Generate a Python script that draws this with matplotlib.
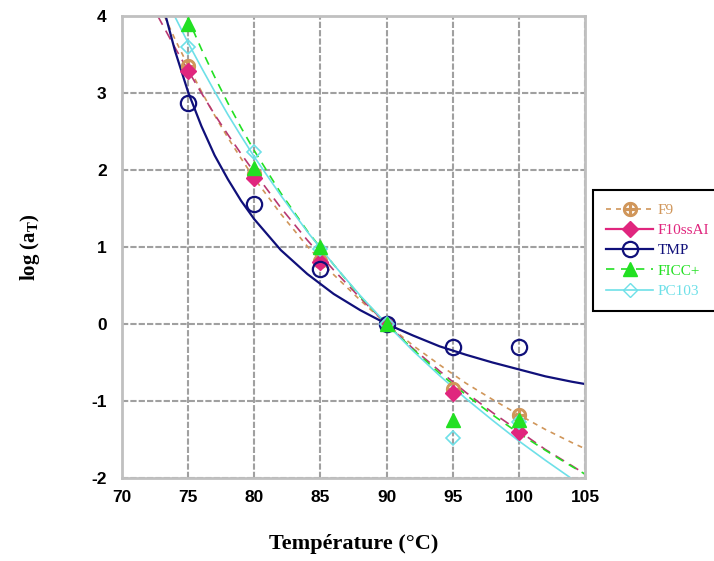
import numpy as np
import matplotlib
matplotlib.use("Agg")
import matplotlib.pyplot as plt
from matplotlib.lines import Line2D

plt.rcParams['axes.unicode_minus'] = False

# measured points
temps = [75, 80, 85, 90, 95, 100]
f9 = [3.35, 1.95, 0.82, 0, -0.85, -1.18]
f10 = [3.28, 1.90, 0.81, 0, -0.89, -1.40]
tmp = [2.87, 1.56, 0.71, 0, -0.30, -0.30]
ficc = [3.90, 2.03, 1.00, 0, -1.25, -1.25]
pc103 = [3.60, 2.24, 0.97, 0, -1.48, -1.27]

# fitted curves
f9_fit_t = [73.2, 74, 75, 76, 77, 78, 79, 80, 82, 84, 86, 88, 90, 92, 94, 96, 98, 100, 102, 104, 105]
f9_fit = [4.00, 3.70, 3.35, 3.02, 2.71, 2.42, 2.15, 1.89, 1.43, 1.01, 0.64, 0.31, 0,
          -0.28, -0.53, -0.77, -0.98, -1.18, -1.37, -1.54, -1.62]
f10_fit_t = [72.7, 74, 75, 76, 77, 78, 79, 80, 82, 84, 86, 88, 90, 92, 94, 96, 98, 100, 102, 104, 105]
f10_fit = [4.00, 3.59, 3.29, 3.00, 2.72, 2.46, 2.21, 1.97, 1.51, 1.09, 0.70, 0.34, 0,
           -0.32, -0.61, -0.89, -1.15, -1.39, -1.63, -1.84, -1.95]
tmp_fit_t = [73.3, 74, 75, 76, 77, 78, 79, 80, 82, 84, 86, 88, 90, 92, 94, 96, 98, 100, 102, 104, 105]
tmp_fit = [4.00, 3.55, 3.01, 2.57, 2.19, 1.88, 1.60, 1.36, 0.96, 0.65, 0.39, 0.18, 0,
           -0.15, -0.29, -0.40, -0.50, -0.59, -0.68, -0.75, -0.78]
ficc_fit_t = [74.9, 76, 77, 78, 79, 80, 82, 84, 86, 88, 90, 92, 94, 96, 98, 100, 102, 104, 105]
ficc_fit = [4.00, 3.57, 3.21, 2.87, 2.55, 2.25, 1.70, 1.21, 0.77, 0.36, 0,
            -0.33, -0.64, -0.92, -1.18, -1.42, -1.64, -1.85, -1.95]
pc_fit_t = [74, 75, 76, 77, 78, 79, 80, 82, 84, 86, 88, 90, 92, 94, 96, 98, 100, 102, 104]
pc_fit = [3.99, 3.65, 3.33, 3.02, 2.72, 2.44, 2.17, 1.67, 1.20, 0.77, 0.37, 0,
          -0.35, -0.67, -0.97, -1.25, -1.52, -1.77, -2.01]

c_f9 = '#d0965a'
c_f10 = '#e0267e'
c_f10_line = '#b83872'
c_tmp = '#10107a'
c_ficc = '#22e022'
c_pc = '#6ee0e8'

fig = plt.figure(figsize=(7.14, 5.61), dpi=100)
ax = fig.add_axes([0.1709, 0.148, 0.6485, 0.8235])

ax.plot(f9_fit_t, f9_fit, color=c_f9, lw=1.2, ls=(0, (3, 3)), zorder=2)
ax.plot(f10_fit_t, f10_fit, color=c_f10_line, lw=1.2, ls=(0, (6, 4)), zorder=2)
ax.plot(ficc_fit_t, ficc_fit, color=c_ficc, lw=1.2, ls=(0, (5, 4)), zorder=2)
ax.plot(pc_fit_t, pc_fit, color=c_pc, lw=1.2, zorder=2)
ax.plot(tmp_fit_t, tmp_fit, color=c_tmp, lw=1.6, zorder=2)

ax.plot(temps, f9, ls='none', marker='$\\oplus$', ms=10, color=c_f9, zorder=3)
ax.plot(temps, f10, ls='none', marker='D', ms=8, color=c_f10, mec=c_f10, zorder=3)
ax.plot(temps, tmp, ls='none', marker='o', ms=11, mfc='none', mec=c_tmp, mew=1.6, zorder=3)
ax.plot(temps, pc103, ls='none', marker='D', ms=7, mfc='none', mec=c_pc, mew=1.2, zorder=3)
ax.plot(temps, ficc, ls='none', marker='^', ms=10, color=c_ficc, zorder=3)

ax.set_xlim(70, 105)
ax.set_ylim(-2, 4)
ax.set_xticks(range(70, 106, 5))
ax.set_yticks(range(-2, 5))
ax.grid(True, color='#a0a0a0', lw=1.5, ls=(0, (3, 1)))
ax.set_axisbelow(True)
for s in ax.spines.values():
    s.set_color('#c0c0c0')
    s.set_linewidth(2)
ax.tick_params(length=0, labelsize=12.5)
ax.tick_params(axis='x', pad=9)
ax.tick_params(axis='y', pad=11)
for lab in ax.get_xticklabels() + ax.get_yticklabels():
    lab.set_fontfamily('Liberation Sans')
    lab.set_fontweight('bold')

ax.set_xlabel('Température (°C)', fontfamily='Liberation Serif', fontweight='bold', fontsize=16)
ax.xaxis.set_label_coords(0.5, -0.122)
ax.set_ylabel('log (a$_\\mathregular{T}$)', fontfamily='Liberation Serif', fontweight='bold', fontsize=15)
ax.yaxis.set_label_coords(-0.172, 0.5)

handles = [
    Line2D([], [], color=c_f9, lw=1.2, ls=(0, (3, 3)), marker='$\\oplus$', ms=10),
    Line2D([], [], color=c_f10, lw=1.6, marker='D', ms=8),
    Line2D([], [], color=c_tmp, lw=1.6, marker='o', ms=11, mfc='none', mew=1.6),
    Line2D([], [], color=c_ficc, lw=1.2, ls=(0, (5, 4)), marker='^', ms=10),
    Line2D([], [], color=c_pc, lw=1.2, marker='D', ms=7, mfc='none'),
]
labels = ['F9', 'F10ssAI', 'TMP', 'FICC+', 'PC103']
leg = fig.legend(handles, labels, loc='upper left', bbox_to_anchor=(0.8305, 0.661),
                 prop={'family': 'Liberation Serif', 'size': 11},
                 handlelength=3.1, handletextpad=0.3, labelspacing=0.43,
                 borderpad=0.85, borderaxespad=0, fancybox=False, framealpha=1)
leg.get_frame().set_edgecolor('black')
leg.get_frame().set_linewidth(1.5)
cols = [c_f9, c_f10, c_tmp, c_ficc, c_pc]
for t, c in zip(leg.get_texts(), cols):
    t.set_color(c)

fig.savefig('out.png', dpi=100)
